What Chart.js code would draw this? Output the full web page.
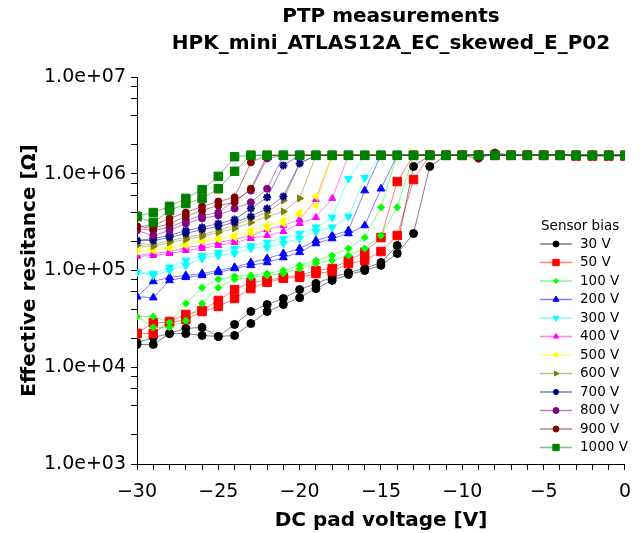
<!DOCTYPE html>
<html>
<head>
<meta charset="utf-8">
<script src="https://cdn.jsdelivr.net/npm/chart.js@4.4.0/dist/chart.umd.min.js"></script>
<style>
  body { margin: 0; background: #fff; }
  #wrap { width: 642px; height: 533px; }
</style>
</head>
<body>
<div id="wrap"><canvas id="ptp_graph" width="642" height="533"></canvas></div>
<script>
// ----------------------------- data ---------------------- >>
const P = 1.55e6; // plateau reading, same for every bias
const voltages = [-30, -29, -28, -27, -26, -25, -24, -23, -22, -21, -20, -19, -18, -17, -16,
                  -15, -14, -13, -12, -11, -10, -9, -8, -7, -6, -5, -4, -3, -2, -1, 0];
const biasLabels = ['30 V', '50 V', '100 V', '200 V', '300 V', '400 V', '500 V', '600 V',
                    '700 V', '800 V', '900 V', '1000 V'];
const yTickValues = [1e3, 2e3, 4e3, 6e3, 8e3, 1e4, 2e4, 4e4, 6e4, 8e4, 1e5, 2e5, 4e5, 6e5, 8e5,
                     1e6, 2e6, 4e6, 6e6, 8e6, 1e7];

// two sweeps per sensor bias (a / b), one value per DC pad voltage
const r30a = [1.72e4, 1.72e4, 2.24e4, 2.52e4, 2.58e4, 2.08e4, 2.77e4, 3.77e4, 4.45e4, 5.14e4,
              6.35e4, 7.35e4, 8.5e4, 9.54e4, 1.05e5, 1.21e5, 1.81e5, 1.19e6, P, P,
              P, P, P, P, P, P, P, P, P, P, P];
const r30b = [1.8e4, 2.03e4, 2.23e4, 2.23e4, 2.13e4, 2.08e4, 2.13e4, 2.83e4, 3.77e4, 4.45e4,
              5.24e4, 6.5e4, 7.9e4, 9.1e4, 1.0e5, 1.13e5, 1.5e5, 2.41e5, 1.19e6, P,
              P, P, P, P, P, P, P, P, P, P, P];
const r50a = [2.23e4, 2.23e4, 2.97e4, 3.51e4, 3.86e4, 4.9e4, 6.35e4, 7.55e4, 7.9e4, 8.5e4,
              8.9e4, 1.0e5, 1.05e5, 1.27e5, 1.54e5, 2.19e5, 8.3e5, P, P, P,
              P, P, P, P, P, P, P, 1.52e6, 1.52e6, 1.52e6, 1.52e6];
const r50b = [2.23e4, 2.9e4, 2.9e4, 3.11e4, 3.77e4, 4.25e4, 5.14e4, 6.5e4, 7.55e4, 8.3e4,
              8.5e4, 9.3e4, 9.77e4, 1.18e5, 1.27e5, 1.57e5, 2.3e5, 8.7e5, P, P,
              P, P, P, P, P, P, P, P, P, P, P];
const r100a = [3.35e4, 3.35e4, 2.9e4, 4.56e4, 6.65e4, 8.1e4, 8.7e4, 8.9e4, 9.3e4, 1.0e5,
               1.13e5, 1.27e5, 1.43e5, 1.69e5, 2.19e5, 4.5e5, P, P, P, P,
               P, P, P, P, P, P, P, P, P, P, P];
const r100b = [3.35e4, 2.58e4, 2.58e4, 3.04e4, 4.56e4, 6.65e4, 8.1e4, 8.5e4, 8.9e4, 9.3e4,
               1.05e5, 1.18e5, 1.27e5, 1.43e5, 1.69e5, 2.3e5, 4.5e5, P, P, P,
               P, P, P, P, P, P, P, P, P, P, P];
const r200a = [5.37e4, 7.7e4, 8.5e4, 8.9e4, 9.3e4, 1.0e5, 1.08e5, 1.21e5, 1.33e5, 1.5e5,
               1.69e5, 2.04e5, 2.3e5, 2.59e5, 6.7e5, P, P, P, P, P,
               P, P, P, P, P, P, P, P, P, P, P];
const r200b = [5.37e4, 5.24e4, 7.9e4, 8.5e4, 8.9e4, 9.54e4, 1.05e5, 1.13e5, 1.21e5, 1.36e5,
               1.54e5, 1.9e5, 2.14e5, 2.41e5, 2.92e5, 7.0e5, P, P, P, P,
               P, P, P, P, P, P, P, P, P, P, P];
const r300a = [9.54e4, 9.3e4, 1.08e5, 1.27e5, 1.43e5, 1.54e5, 1.69e5, 1.81e5, 1.95e5, 2.14e5,
               2.41e5, 2.79e5, 3.54e5, 8.9e5, P, P, P, P, P, P,
               P, P, P, P, P, P, P, P, P, P, P];
const r300b = [9.54e4, 8.9e4, 1.0e5, 1.13e5, 1.33e5, 1.43e5, 1.5e5, 1.69e5, 1.73e5, 1.9e5,
               2.14e5, 2.53e5, 2.79e5, 3.62e5, 9.1e5, P, P, P, P, P,
               P, P, P, P, P, P, P, 1.53e6, 1.53e6, 1.53e6, 1.53e6];
const r400a = [1.43e5, 1.5e5, 1.57e5, 1.73e5, 1.81e5, 1.95e5, 2.09e5, 2.3e5, 2.65e5, 2.92e5,
               3.37e5, 5.43e5, P, P, P, P, P, P, P, P,
               P, P, P, P, P, P, P, P, P, P, P];
const r400b = [1.4e5, 1.43e5, 1.5e5, 1.61e5, 1.69e5, 1.81e5, 1.95e5, 2.14e5, 2.3e5, 2.53e5,
               3.06e5, 3.54e5, 5.56e5, P, P, P, P, P, P, P,
               P, P, P, P, P, P, P, P, P, P, P];
const r500a = [1.61e5, 1.69e5, 1.73e5, 1.9e5, 2.04e5, 2.14e5, 2.3e5, 2.59e5, 2.92e5, 3.29e5,
               3.97e5, 5.83e5, P, P, P, P, P, P, P, P,
               P, P, P, P, P, P, P, P, P, P, P];
const r500b = [1.57e5, 1.61e5, 1.69e5, 1.81e5, 1.99e5, 2.09e5, 2.19e5, 2.41e5, 2.72e5, 3.06e5,
               3.79e5, 4.7e5, P, P, P, P, P, P, P, P,
               P, P, P, P, P, P, P, P, P, P, P];
const r600a = [1.9e5, 1.86e5, 2.04e5, 2.19e5, 2.36e5, 2.59e5, 2.92e5, 3.45e5, 3.97e5, 5.3e5,
               1.28e6, P, P, P, P, P, P, P, P, P,
               P, P, P, P, P, P, P, P, P, P, P];
const r600b = [1.81e5, 1.77e5, 1.95e5, 2.09e5, 2.25e5, 2.47e5, 2.72e5, 3.14e5, 3.62e5, 4.07e5,
               5.56e5, P, P, P, P, P, P, P, P, P,
               P, P, P, P, P, P, P, P, P, P, P];
const r700a = [2.04e5, 2.14e5, 2.3e5, 2.59e5, 2.79e5, 3.06e5, 3.37e5, 4.37e5, 5.7e5, 1.22e6,
               P, P, P, P, P, P, P, P, P, P,
               P, P, P, P, P, P, P, P, P, P, P];
const r700b = [2.04e5, 2.04e5, 2.19e5, 2.41e5, 2.65e5, 2.86e5, 3.14e5, 3.62e5, 4.37e5, 5.83e5,
               1.28e6, P, P, P, P, P, P, P, P, P,
               P, P, P, P, P, P, P, P, P, P, P];
const r800a = [2.72e5, 2.59e5, 2.79e5, 3.29e5, 3.71e5, 3.97e5, 5.3e5, 6.7e5, 1.44e6, P,
               P, P, P, P, P, P, P, P, P, P,
               P, P, P, P, P, P, P, P, P, P, P];
const r800b = [2.59e5, 2.3e5, 2.59e5, 3.06e5, 3.45e5, 3.71e5, 4.37e5, 5.06e5, 7.0e5, P,
               P, P, P, P, P, P, P, P, P, P,
               P, P, P, P, P, P, P, P, P, P, P];
const r900a = [2.86e5, 2.92e5, 3.45e5, 3.97e5, 4.6e5, 5.17e5, 5.7e5, 1.31e6, P, P,
               P, P, P, P, P, P, P, P, P, P,
               P, 1.43e6, 1.66e6, P, P, P, P, P, P, P, P];
const r900b = [2.86e5, 2.72e5, 3.06e5, 3.62e5, 4.17e5, 4.7e5, 5.06e5, 7.0e5, P, P,
               P, P, P, P, P, P, P, P, P, P,
               P, P, P, P, P, P, P, P, P, P, P];
const r1000a = [3.62e5, 3.97e5, 4.6e5, 5.56e5, 6.85e5, 9.4e5, 1.5e6, P, P, P,
                P, P, P, P, P, P, P, P, P, P,
                P, P, P, P, P, P, P, P, P, P, P];
const r1000b = [3.62e5, 3.14e5, 4.17e5, 4.92e5, 5.56e5, 7.0e5, 1.06e6, P, P, P,
                P, P, P, P, P, P, P, P, P, P,
                P, P, P, P, P, P, P, P, P, P, P];

const sweepsA = [r30a, r50a, r100a, r200a, r300a, r400a, r500a, r600a, r700a, r800a, r900a, r1000a];
const sweepsB = [r30b, r50b, r100b, r200b, r300b, r400b, r500b, r600b, r700b, r800b, r900b, r1000b];

// ----------------------------- styles ---------------------- >>
const colors = ['#000000', '#ff0000', '#00ff00', '#0000ff', '#00ffff', '#ff00ff',
                '#ffff00', '#808000', '#000080', '#800080', '#800000', '#008000'];
const markers = ['circle', 'rect', 'rectRot', 'triangle', 'triangle', 'triangle',
                 'triangle', 'triangle', 'star', 'circle', 'circle', 'rect'];
const rotations = [0, 0, 0, 0, 180, 0, -90, 90, 0, 0, 0, 0];
const radii = [4, 6, 3.5, 4.5, 4.5, 4, 4, 4, 4, 3.5, 3.5, 6];
const legendRadii = [3, 4.5, 2.5, 3.5, 3.5, 3, 3, 3, 3, 3, 3, 4.5];

function fade(hex, a) {
    const n = parseInt(hex.slice(1), 16);
    return `rgba(${n >> 16}, ${(n >> 8) & 255}, ${n & 255}, ${a})`;
}

function sweepPoints(a, b) {
    const pts = voltages.map((v, i) => ({ x: v, y: a[i] }));
    pts.push({ x: 0, y: null }); // break between the two sweeps
    return pts.concat(voltages.map((v, i) => ({ x: v, y: b[i] })));
}

const datasets = biasLabels.map((label, i) => ({
    label: label,
    data: sweepPoints(sweepsA[i], sweepsB[i]),
    borderColor: fade(colors[i], 0.5),
    borderWidth: 1,
    pointStyle: markers[i],
    pointRotation: rotations[i],
    pointRadius: radii[i],
    pointBackgroundColor: colors[i],
    pointBorderColor: colors[i],
    pointBorderWidth: markers[i] === 'star' ? 2 : 1,
    spanGaps: false,
    order: 12 - i
}));

// ----------------------------- plugins ---------------------- >>
const titleLines = {
    id: 'titleLines',
    afterDraw(chart) {
        const ctx = chart.ctx;
        ctx.save();
        ctx.fillStyle = '#000';
        ctx.font = 'bold 20px "DejaVu Sans"';
        ctx.textAlign = 'center';
        ctx.textBaseline = 'middle';
        ctx.fillText('PTP measurements', 391, 17);
        ctx.fillText('HPK_mini_ATLAS12A_EC_skewed_E_P02', 391, 44);
        ctx.restore();
    }
};

const sensorLegend = {
    id: 'sensorLegend',
    afterDraw(chart) {
        const ctx = chart.ctx;
        ctx.save();
        ctx.font = '13.5px "DejaVu Sans"';
        ctx.textAlign = 'left';
        ctx.textBaseline = 'middle';
        ctx.fillStyle = '#000';
        ctx.fillText('Sensor bias', 541, 226);
        chart.data.datasets.forEach((ds, i) => {
            const y = 244 + i * 18.5;
            ctx.strokeStyle = ds.borderColor;
            ctx.lineWidth = 1.5;
            ctx.beginPath();
            ctx.moveTo(540, y);
            ctx.lineTo(572, y);
            ctx.stroke();
            ctx.fillStyle = ds.pointBackgroundColor;
            ctx.strokeStyle = ds.pointBorderColor;
            ctx.lineWidth = ds.pointBorderWidth;
            Chart.helpers.drawPoint(ctx, {
                pointStyle: ds.pointStyle,
                rotation: ds.pointRotation,
                radius: legendRadii[i],
                borderWidth: ds.pointBorderWidth
            }, 556, y);
            ctx.fillStyle = '#000';
            ctx.fillText(ds.label, 580, y);
        });
        ctx.restore();
    }
};

// ----------------------------- graph ---------------------- >>
Chart.defaults.color = '#000';
Chart.defaults.font.family = '"DejaVu Sans"';

const ctx = document.getElementById('ptp_graph').getContext('2d');
const ptpChart = new Chart(ctx, {
    type: 'line',
    data: { datasets: datasets },
    options: {
        responsive: false,
        animation: false,
        layout: { padding: { top: 77, left: 0, right: 0, bottom: 0 } },
        plugins: {
            legend: { display: false },
            tooltip: { enabled: false }
        },
        scales: {
            x: {
                type: 'linear',
                min: -30,
                max: 0,
                afterFit(scale) { scale.height = 69; },
                border: { display: true, color: '#000', width: 1 },
                grid: { drawOnChartArea: false, drawTicks: true, tickLength: 6, color: '#000' },
                ticks: {
                    stepSize: 1,
                    autoSkip: false,
                    maxRotation: 0,
                    padding: 11,
                    font: { size: 19 },
                    callback: v => (v % 5 === 0 ? (v < 0 ? '\u2212' + Math.abs(v) : String(v)) : '')
                },
                title: {
                    display: true,
                    text: 'DC pad voltage [V]',
                    font: { size: 20, weight: 'bold' },
                    padding: { top: 0, bottom: 0 }
                }
            },
            y: {
                type: 'logarithmic',
                min: 1e3,
                max: 1e7,
                afterFit(scale) { scale.width = 137; },
                afterBuildTicks(scale) { scale.ticks = yTickValues.map(v => ({ value: v })); },
                border: { display: true, color: '#000', width: 1 },
                grid: { drawOnChartArea: false, drawTicks: true, tickLength: 6, color: '#000' },
                ticks: {
                    autoSkip: false,
                    padding: 5,
                    font: { size: 19 },
                    callback: v => {
                        const e = Math.round(Math.log10(v));
                        if (Math.abs(v - Math.pow(10, e)) > 1e-6 * v) return '';
                        return '1.0e+' + (e < 10 ? '0' : '') + e;
                    }
                },
                title: {
                    display: true,
                    text: 'Effective resitance [\u03a9]',
                    font: { size: 20, weight: 'bold' },
                    padding: 18
                }
            }
        }
    },
    plugins: [titleLines, sensorLegend]
});
</script>
</body>
</html>
